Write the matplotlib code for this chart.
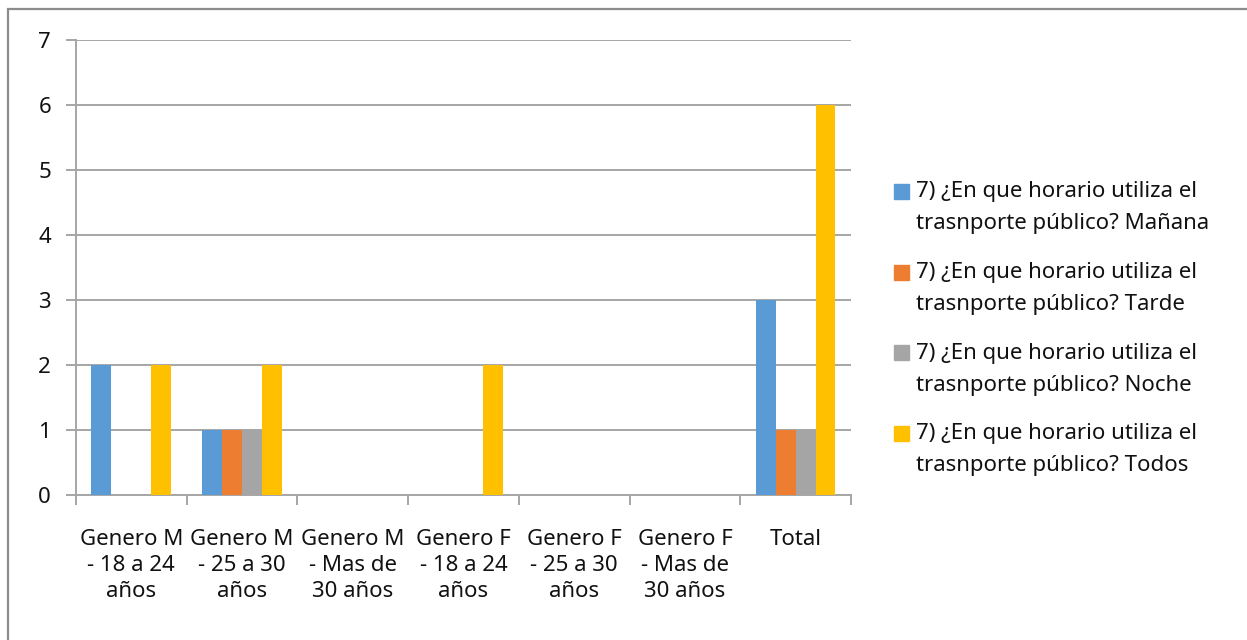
import matplotlib
matplotlib.use("Agg")
import matplotlib.pyplot as plt
from matplotlib.patches import Rectangle
import numpy as np

# data
categories = ["Genero M\n- 18 a 24\naños", "Genero M\n- 25 a 30\naños",
              "Genero M\n- Mas de\n30 años", "Genero F\n- 18 a 24\naños",
              "Genero F\n- 25 a 30\naños", "Genero F\n- Mas de\n30 años", "Total"]
series_names = ["7) ¿En que horario utiliza el\ntrasnporte público? Mañana",
                "7) ¿En que horario utiliza el\ntrasnporte público? Tarde",
                "7) ¿En que horario utiliza el\ntrasnporte público? Noche",
                "7) ¿En que horario utiliza el\ntrasnporte público? Todos"]
manana = [2, 1, 0, 0, 0, 0, 3]
tarde = [0, 1, 0, 0, 0, 0, 1]
noche = [0, 1, 0, 0, 0, 0, 1]
todos = [2, 2, 0, 2, 0, 0, 6]
yticks = [0, 1, 2, 3, 4, 5, 6, 7]

colors = ['#5B9BD5', '#ED7D31', '#A5A5A5', '#FFC000']
grid_c = '#A6A6A6'
W, H = 1247, 640

plt.rcParams['font.family'] = ['Noto Sans', 'DejaVu Sans']
fs = 16

fig = plt.figure(figsize=(W/100, H/100), dpi=100)
# outer chart border (right and bottom edges fall outside the picture)
fig.patches.append(Rectangle((8/W, -0.2), 1.5, 1.2 - 9/H, transform=fig.transFigure,
                             fill=False, ec='#8C8C8C', lw=1.6))

ax = fig.add_axes([76/W, 1 - 495/H, (851-76)/W, (495-40)/H])
x = np.arange(len(categories))
w = 0.18
for j, vals in enumerate([manana, tarde, noche, todos]):
    ax.bar(x + (j - 1.5)*w, vals, width=w, color=colors[j], zorder=3, lw=0)

ax.set_xlim(-0.5, len(categories) - 0.5)
ax.set_ylim(0, 7)
ax.set_yticks(yticks)
ax.set_yticklabels([str(v) for v in yticks], fontsize=fs, color='#111111')
ax.yaxis.grid(True, color=grid_c, lw=1.4, zorder=0)
ax.tick_params(axis='y', length=7, width=1.4, color=grid_c, pad=11)

ax.set_xticks(x)
ax.set_xticklabels(categories, fontsize=fs, color='#111111', linespacing=1.3)
ax.set_xticks(np.arange(-0.5, len(categories)), minor=True)
ax.tick_params(axis='x', which='major', length=0, pad=24.5)
ax.tick_params(axis='x', which='minor', length=7, width=1.4, color=grid_c)

for s in ['top', 'right']:
    ax.spines[s].set_visible(False)
for s in ['left', 'bottom']:
    ax.spines[s].set_color(grid_c)
    ax.spines[s].set_linewidth(1.4)

# legend drawn by hand, square beside first line
for j, name in enumerate(series_names):
    yc = 192 + j*80.5
    fig.patches.append(Rectangle((894/W, 1 - (yc + 7)/H), 15/W, 15/H,
                                 transform=fig.transFigure, color=colors[j]))
    for k, line in enumerate(name.split('\n')):
        fig.text(916/W, 1 - (yc + k*32)/H, line, fontsize=fs, va='center',
                 ha='left', color='#111111')

fig.savefig('out.png', dpi=100, facecolor='white')
